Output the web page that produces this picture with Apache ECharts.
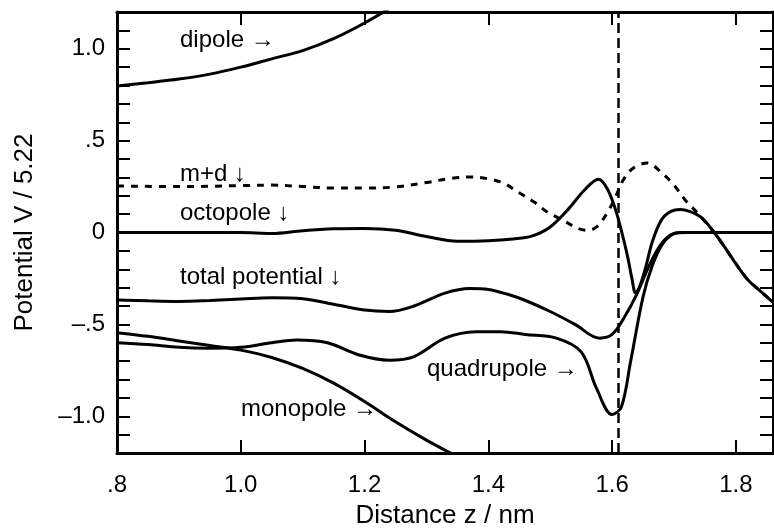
<!DOCTYPE html>
<html>
<head>
<meta charset="utf-8">
<script src="https://cdn.jsdelivr.net/npm/echarts@6/dist/echarts.min.js"></script>
<style>
  html, body { margin: 0; padding: 0; background: #fff; }
  #chart { width: 774px; height: 529px; }
</style>
</head>
<body>
<div id="chart"></div>
<script>
// distance z (nm) and potential V/5.22
const dipoleZ = [0.80, 0.85, 0.90, 0.95, 1.00, 1.05, 1.10, 1.15, 1.20, 1.25]
const dipoleV = [0.797, 0.815, 0.835, 0.862, 0.90, 0.945, 0.99, 1.055, 1.14, 1.24]

const monopoleZ = [0.80, 0.85, 0.90, 0.95, 1.00, 1.05, 1.10, 1.15, 1.20, 1.25, 1.30, 1.35]
const monopoleV = [-0.545, -0.565, -0.59, -0.615, -0.64, -0.68, -0.74, -0.82, -0.92, -1.03, -1.13, -1.22]

const mdZ = [0.80, 0.90, 1.00, 1.05, 1.10, 1.15, 1.20, 1.25, 1.30, 1.34, 1.37, 1.40, 1.425, 1.448, 1.474, 1.495,
  1.52, 1.545, 1.56, 1.575, 1.592, 1.605, 1.618, 1.634, 1.657, 1.68, 1.70, 1.718, 1.738, 1.765, 1.785, 1.80, 1.82, 1.84, 1.86]
const mdV = [0.253, 0.25, 0.255, 0.258, 0.25, 0.242, 0.242, 0.248, 0.272, 0.295, 0.302, 0.292, 0.268, 0.22, 0.166, 0.112,
  0.068, 0.022, 0.012, 0.03, 0.106, 0.19, 0.286, 0.35, 0.378, 0.325, 0.258, 0.177, 0.106, 0.0, -0.095, -0.17, -0.26, -0.32, -0.38]

const octoZ = [0.80, 0.90, 1.00, 1.05, 1.10, 1.15, 1.20, 1.25, 1.30, 1.35, 1.40, 1.44, 1.47, 1.50, 1.53, 1.555, 1.578,
  1.592, 1.605, 1.615, 1.625, 1.632, 1.638, 1.645, 1.655, 1.665, 1.68, 1.695, 1.71, 1.725, 1.745, 1.765, 1.785, 1.80, 1.82, 1.84, 1.86]
const octoV = [0.0, 0.0, 0.0, -0.005, 0.01, 0.02, 0.022, 0.012, -0.022, -0.048, -0.045, -0.035, -0.02, 0.03, 0.13, 0.23, 0.29,
  0.24, 0.13, 0.01, -0.13, -0.25, -0.33, -0.29, -0.18, -0.05, 0.07, 0.115, 0.125, 0.115, 0.08, 0.0, -0.095, -0.17, -0.26, -0.32, -0.38]

const totalZ = [0.80, 0.85, 0.90, 0.95, 1.00, 1.05, 1.10, 1.15, 1.20, 1.24, 1.28, 1.33, 1.37, 1.40, 1.43, 1.46, 1.50,
  1.54, 1.58, 1.60, 1.62, 1.64, 1.66, 1.68, 1.70, 1.72, 1.86]
const totalV = [-0.367, -0.372, -0.375, -0.37, -0.362, -0.355, -0.36, -0.39, -0.422, -0.43, -0.40, -0.33, -0.305, -0.31,
  -0.335, -0.37, -0.43, -0.50, -0.575, -0.555, -0.46, -0.335, -0.18, -0.06, -0.005, 0, 0]

const quadZ = [0.80, 0.85, 0.90, 0.95, 1.00, 1.05, 1.09, 1.14, 1.19, 1.24, 1.28, 1.33, 1.38, 1.42, 1.46, 1.51, 1.55,
  1.575, 1.60, 1.615, 1.63, 1.65, 1.665, 1.68, 1.695, 1.71, 1.86]
const quadV = [-0.60, -0.61, -0.625, -0.63, -0.625, -0.60, -0.585, -0.60, -0.665, -0.695, -0.675, -0.575, -0.54, -0.54,
  -0.555, -0.575, -0.65, -0.85, -0.99, -0.95, -0.70, -0.35, -0.18, -0.07, -0.015, 0, 0]

const interfaceZ = 1.615

const xTickValues = [0.8, 1.0, 1.2, 1.4, 1.6, 1.8]
const xTickLabels = ['.8', '1.0', '1.2', '1.4', '1.6', '1.8']
const yTickValues = [-1.0, -0.5, 0, 0.5, 1.0]
const yTickLabels = ['\u20131.0', '\u2013.5', '0', '.5', '1.0']

function zip(xs, ys) {
  return xs.map((x, i) => [x, ys[i]])
}

function lookup(values, labels) {
  return function (v) {
    for (let i = 0; i < values.length; i++) {
      if (Math.abs(v - values[i]) < 1e-6) return labels[i]
    }
    return ''
  }
}

const FONT = '"Liberation Sans", Arial, Helvetica, sans-serif'

const chart = echarts.init(document.getElementById('chart'), null, { renderer: 'canvas' })

const axisLine = { show: true, onZero: false, lineStyle: { color: '#000', width: 3 } }
const tick = { show: true, inside: true, length: 13, lineStyle: { color: '#000', width: 2 } }

function curve(name, xs, ys, dashed) {
  return {
    name: name,
    type: 'line',
    data: zip(xs, ys),
    showSymbol: false,
    smooth: 0.35,
    clip: true,
    lineStyle: { color: '#000', width: 3, type: dashed ? [7, 7] : 'solid' },
    z: dashed ? 3 : 2
  }
}

function label(text, x, y) {
  return {
    type: 'text',
    x: x,
    y: y,
    style: {
      text: text,
      fill: '#000',
      font: '24px ' + FONT,
      verticalAlign: 'middle'
    },
    z: 10
  }
}

const option = {
  animation: false,
  backgroundColor: '#fff',
  // keep the plot box fixed, labels may sit near the canvas edge
  grid: { left: 117, right: 1, top: 12, bottom: 76, outerBoundsMode: 'none', containLabel: false },
  xAxis: [{
    type: 'value',
    min: 0.8,
    max: 1.86,
    interval: 0.2,
    name: 'Distance z / nm',
    nameLocation: 'middle',
    nameGap: 50,
    nameTextStyle: { color: '#000', fontSize: 26, fontFamily: FONT },
    axisLine: axisLine,
    axisTick: tick,
    splitLine: { show: false },
    axisLabel: {
      color: '#000', fontSize: 24, fontFamily: FONT, margin: 20,
      showMaxLabel: false,
      formatter: lookup(xTickValues, xTickLabels)
    }
  }, {
    type: 'value',
    position: 'top',
    min: 0.8,
    max: 1.86,
    interval: 0.2,
    axisLine: axisLine,
    axisTick: tick,
    splitLine: { show: false },
    axisLabel: { show: false }
  }],
  yAxis: [{
    type: 'value',
    min: -1.2,
    max: 1.2,
    interval: 0.1,
    name: 'Potential V / 5.22',
    nameLocation: 'middle',
    nameGap: 79,
    nameTextStyle: { color: '#000', fontSize: 26, fontFamily: FONT },
    axisLine: axisLine,
    axisTick: tick,
    splitLine: { show: false },
    axisLabel: {
      color: '#000', fontSize: 24, fontFamily: FONT, margin: 12,
      formatter: lookup(yTickValues, yTickLabels)
    }
  }, {
    type: 'value',
    position: 'right',
    min: -1.2,
    max: 1.2,
    interval: 0.1,
    axisLine: axisLine,
    axisTick: tick,
    splitLine: { show: false },
    axisLabel: { show: false }
  }],
  series: [
    curve('dipole', dipoleZ, dipoleV),
    curve('monopole', monopoleZ, monopoleV),
    curve('octopole', octoZ, octoV),
    curve('total potential', totalZ, totalV),
    curve('quadrupole', quadZ, quadV),
    curve('m+d', mdZ, mdV, true),
    {
      name: 'interface',
      type: 'line',
      data: [],
      markLine: {
        silent: true,
        symbol: 'none',
        label: { show: false },
        lineStyle: { color: '#000', width: 2.5, type: [10, 5] },
        data: [{ xAxis: interfaceZ }]
      }
    }
  ],
  graphic: [
    label('dipole \u2192', 180, 40),
    label('m+d \u2193', 180, 174),
    label('octopole \u2193', 180, 213),
    label('total potential \u2193', 180, 277),
    label('quadrupole \u2192', 427, 369),
    label('monopole \u2192', 241, 409)
  ]
}

chart.setOption(option)
</script>
</body>
</html>
